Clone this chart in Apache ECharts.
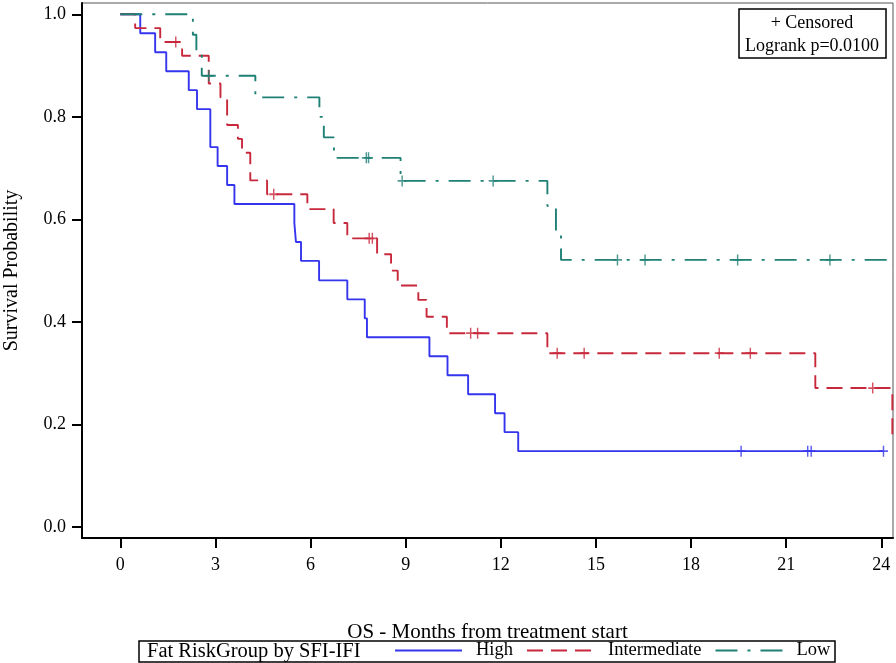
<!DOCTYPE html>
<html>
<head>
<meta charset="utf-8">
<script src="https://cdn.jsdelivr.net/npm/echarts@6/dist/echarts.min.js"></script>
<style>
  html, body { margin: 0; padding: 0; background: #fff; }
  #chart { width: 896px; height: 663px; }
</style>
</head>
<body>
<div id="chart"></div>
<script>
// ---- data ----
const xTicks = [0, 3, 6, 9, 12, 15, 18, 21, 24];
const yTicks = [0, 0.2, 0.4, 0.6, 0.8, 1.0];

const highTime = [0, 0.63, 1.10, 1.45, 2.16, 2.42, 2.84, 3.07, 3.37, 3.60, 5.49, 5.54, 5.70, 6.27, 7.16, 7.71, 7.78, 9.75, 10.32, 10.97, 11.82, 12.12, 12.55, 24.07];
const highSurv = [1, 0.963, 0.926, 0.889, 0.852, 0.815, 0.741, 0.704, 0.667, 0.630, 0.593, 0.556, 0.519, 0.481, 0.444, 0.407, 0.370, 0.333, 0.296, 0.259, 0.222, 0.185, 0.148, 0.148];
const highCensor = [19.58, 21.68, 21.79, 24.07];

const interTime = [0, 0.47, 1.26, 1.95, 2.79, 3.16, 3.37, 3.71, 3.84, 4.10, 4.63, 5.90, 6.73, 7.16, 8.10, 8.54, 8.75, 9.40, 9.66, 10.30, 13.47, 21.92, 24.35];
const interSurv = [1, 0.973, 0.946, 0.919, 0.865, 0.838, 0.784, 0.757, 0.730, 0.676, 0.649, 0.620, 0.593, 0.563, 0.532, 0.500, 0.471, 0.443, 0.410, 0.378, 0.339, 0.271, 0.180];
const interCensor = [1.75, 4.84, 7.85, 7.95, 11.05, 11.27, 13.78, 14.63, 18.89, 19.87, 23.73];

const lowTime = [0, 2.29, 2.40, 2.57, 4.26, 6.28, 6.42, 6.74, 8.84, 13.47, 13.74, 13.90, 24.6];
const lowSurv = [1, 0.960, 0.920, 0.880, 0.838, 0.800, 0.760, 0.720, 0.675, 0.626, 0.575, 0.521, 0.521];
const lowCensor = [2.79, 7.76, 7.83, 8.89, 11.76, 15.68, 16.55, 19.47, 22.38];

const groupNames = ['High', 'Intermediate', 'Low'];
const legendTitle = 'Fat RiskGroup by SFI-IFI';
const xTitle = 'OS - Months from treatment start';
const yTitle = 'Survival Probability';
const insetLines = ['+ Censored', 'Logrank p=0.0100'];

// ---- helpers ----
function pairs(t, s) { return t.map((v, i) => [v, s[i]]); }
function survAt(t, s, x) {
  let v = s[0];
  for (let i = 0; i < t.length; i++) if (t[i] <= x) v = s[i];
  return v;
}
function censorPts(t, s, c) { return c.map(x => [x, survAt(t, s, x)]); }

const colors = ['#3535ee', '#c8283c', '#1f8076'];
const dashes = ['solid', [16, 8], [22, 10, 3, 10]];
const FONT = 'Liberation Serif';
const plus = 'path://M0,5L10,5M5,0L5,10';

const groups = [
  [highTime, highSurv, highCensor],
  [interTime, interSurv, interCensor],
  [lowTime, lowSurv, lowCensor]
];

const series = [];
groups.forEach((g, i) => {
  series.push({
    name: groupNames[i],
    type: 'line',
    step: 'end',
    data: pairs(g[0], g[1]),
    symbol: 'none',
    showSymbol: false,
    color: colors[i],
    lineStyle: { color: colors[i], width: 1.9, type: dashes[i] },
    clip: true,
    z: 3
  });
});
groups.forEach((g, i) => {
  series.push({
    name: groupNames[i] + ' censored',
    type: 'scatter',
    data: censorPts(g[0], g[1], g[2]),
    symbol: plus,
    symbolSize: [9, 11],
    itemStyle: { color: 'transparent', borderColor: colors[i], borderWidth: 1.6 },
    z: 4
  });
});

const chart = echarts.init(document.getElementById('chart'), null, { renderer: 'canvas' });
chart.setOption({
  animation: false,
  backgroundColor: '#fff',
  grid: { left: 82, top: 3, right: 3, bottom: 125, outerBoundsMode: 'none', containLabel: false,
          show: true, borderColor: '#555', borderWidth: 1, backgroundColor: 'transparent' },
  xAxis: {
    type: 'value', min: -1.207, max: 24.37,
    axisLine: { show: true, onZero: false, lineStyle: { color: '#000', width: 2 } },
    axisTick: { show: true, length: 10, customValues: xTicks, lineStyle: { color: '#000', width: 2 } },
    axisLabel: { customValues: xTicks, margin: 18, color: '#000', fontFamily: FONT, fontSize: 18 },
    splitLine: { show: false },
    name: xTitle, nameLocation: 'middle', nameGap: 84,
    nameTextStyle: { color: '#000', fontFamily: FONT, fontSize: 21 }
  },
  yAxis: {
    type: 'value', min: -0.0214, max: 1.022,
    axisLine: { show: true, onZero: false, lineStyle: { color: '#000', width: 2 } },
    axisTick: { show: true, length: 10, customValues: yTicks, lineStyle: { color: '#000', width: 2 } },
    axisLabel: { customValues: yTicks, margin: 16, color: '#000', fontFamily: FONT, fontSize: 18, formatter: v => v.toFixed(1) },
    splitLine: { show: false },
    name: yTitle, nameLocation: 'middle', nameGap: 60,
    nameTextStyle: { color: '#000', fontFamily: FONT, fontSize: 20 }
  },
  legend: {
    data: groupNames,
    left: 394, top: 641, padding: 0,
    itemWidth: 67, itemHeight: 14, itemGap: 13,
    itemStyle: { opacity: 0 },
    textStyle: { color: '#000', fontFamily: FONT, fontSize: 18.5, padding: [0, 0, 0, 9] }
  },
  graphic: [
    { type: 'rect', shape: { x: 739, y: 9, width: 147, height: 49 }, style: { fill: '#fff', stroke: '#000', lineWidth: 1.5 }, z: 10 },
    { type: 'text', x: 812, y: 23, style: { text: insetLines[0], fontFamily: FONT, fontSize: 18, fill: '#000', align: 'center', verticalAlign: 'middle' }, z: 11 },
    { type: 'text', x: 812, y: 46, style: { text: insetLines[1], fontFamily: FONT, fontSize: 18, fill: '#000', align: 'center', verticalAlign: 'middle' }, z: 11 },
    { type: 'rect', shape: { x: 139, y: 641, width: 696, height: 21 }, style: { fill: 'none', stroke: '#000', lineWidth: 1.5 }, z: 10 },
    { type: 'text', x: 147, y: 652, style: { text: legendTitle, fontFamily: FONT, fontSize: 20.5, fill: '#000', align: 'left', verticalAlign: 'middle' }, z: 11 }
  ],
  series: series
});
</script>
</body>
</html>
